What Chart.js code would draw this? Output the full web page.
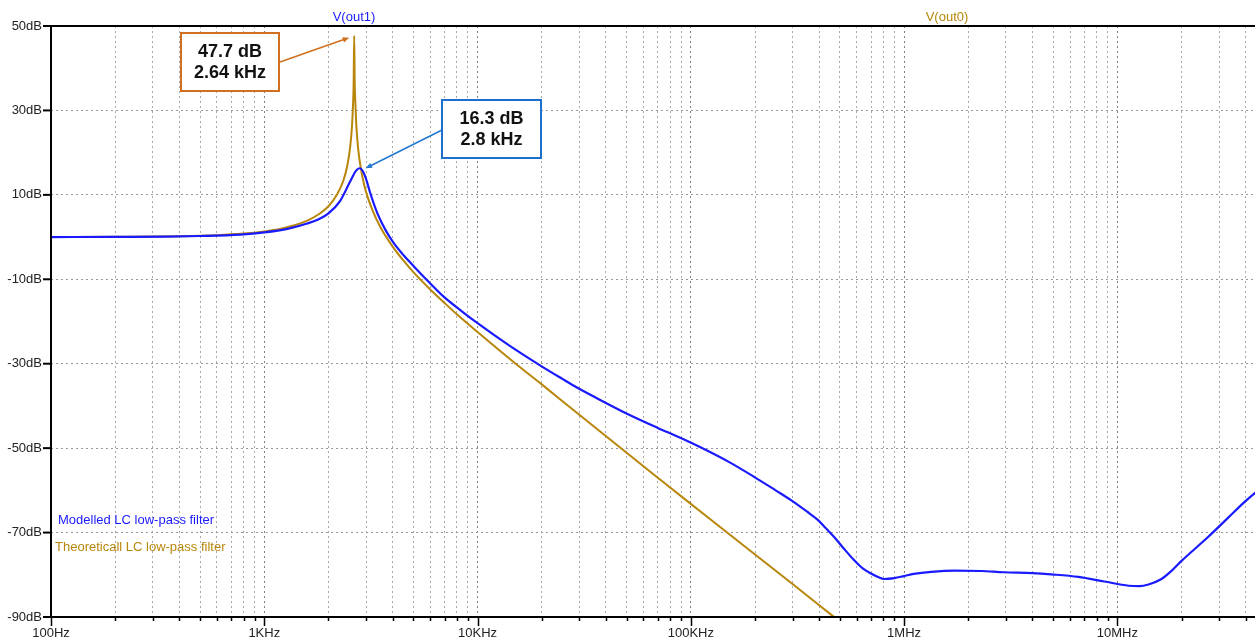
<!DOCTYPE html>
<html>
<head>
<meta charset="utf-8">
<script src="https://cdn.jsdelivr.net/npm/chart.js@4/dist/chart.umd.min.js"></script>
<style>
  html, body { margin: 0; padding: 0; background: #fff; overflow: hidden; }
  canvas { display: block; }
</style>
</head>
<body>
<canvas id="chartCanvas" width="1255" height="639"></canvas>
<script>
// Modelled LC low-pass filter, V(out1)
const modelledFreq = [100, 200, 350, 500, 772, 1000, 1300, 1590, 1800, 2000, 2270, 2530, 2700, 2800, 2900, 3000, 3150, 3400, 3700, 4040,
  4500, 5000, 5820, 7000, 8500, 10000, 14000, 19800, 25000, 29400, 37000, 50500, 70000, 89800, 111000, 150000, 198000, 250000, 295000, 350000,
  394000, 430000, 469000, 520000, 582000, 640000, 700000, 760000, 805000, 900000, 1000000, 1110000, 1340000, 1720000, 2300000, 2940000, 4000000, 4900000, 6560000, 8700000,
  11300000, 12700000, 14000000, 16100000, 18000000, 20000000, 26700000, 33200000, 40000000, 45000000];
const modelledDb = [0, 0.05, 0.1, 0.25, 0.6, 1.1, 2.0, 3.2, 4.2, 5.6, 8.6, 13.2, 15.8, 16.3, 15.6, 13.8, 10.2, 5.5, 1.7, -1.4,
  -4.3, -6.8, -10.3, -14.3, -17.7, -20.4, -25.6, -30.5, -33.6, -35.7, -38.4, -41.9, -45.2, -47.6, -49.8, -53.2, -56.8, -60, -62.3, -65,
  -67, -69, -71, -73.7, -76.5, -78.5, -79.7, -80.6, -81.0, -80.8, -80.3, -79.8, -79.3, -79.0, -79.1, -79.4, -79.6, -79.9, -80.5, -81.6,
  -82.6, -82.7, -82.3, -81.0, -79.0, -76.7, -71.0, -66.4, -62.5, -60.3];

// Theoretical LC low-pass filter, V(out0)
const theoFreq = [100, 200, 400, 600, 800, 1000, 1200, 1400, 1600, 1800, 2000, 2200, 2350, 2450, 2530, 2580, 2610, 2625, 2640, 2655,
  2670, 2700, 2750, 2800, 2900, 3000, 3200, 3500, 4000, 4500, 5000, 6000, 7000, 8000, 10000, 15000, 20000, 30000, 50000, 70000,
  100000, 150000, 200000, 300000, 400000, 500000];
const theoDb = [0, 0.05, 0.2, 0.45, 0.83, 1.35, 2.0, 2.85, 3.95, 5.4, 7.3, 10.2, 13.4, 16.9, 21.5, 26.5, 32, 36.5, 47.7, 36.5,
  32.5, 26.7, 21.4, 18.1, 13.7, 10.7, 6.6, 2.4, -2.25, -5.6, -8.3, -12.4, -15.6, -18.3, -22.5, -29.9, -34.9, -42.1, -51.1, -57.0,
  -63.2, -70.2, -75.2, -82.2, -87.2, -91.1];

// axis ticks
const decadeFreq = [100, 1000, 10000, 100000, 1000000, 10000000];
const decadeLabels = ['100Hz', '1KHz', '10KHz', '100KHz', '1MHz', '10MHz'];
const xMin = 100, xMax = 44200000;
const yMin = -90, yMax = 50, yStep = 20;

// markers
const theoPeak = { f: 2640, db: 47.7, lines: ['47.7 dB', '2.64 kHz'] };
const modPeak = { f: 2800, db: 16.3, lines: ['16.3 dB', '2.8 kHz'] };

const BLUE = '#1a1aff';
const GOLD = '#b8860b';
const FONT = '"Liberation Sans", Arial, sans-serif';

function xTickValues() {
  const out = [];
  decadeFreq.forEach(d => {
    for (let m = 1; m <= 9; m++) {
      const v = d * m;
      if (v >= xMin && v <= xMax) out.push(v);
    }
  });
  return out;
}

function arrow(ctx, x1, y1, x2, y2, color) {
  const ang = Math.atan2(y2 - y1, x2 - x1);
  const h = 7;
  ctx.strokeStyle = color;
  ctx.fillStyle = color;
  ctx.lineWidth = 1.5;
  ctx.beginPath();
  ctx.moveTo(x1, y1);
  ctx.lineTo(x2 - Math.cos(ang) * h * 0.8, y2 - Math.sin(ang) * h * 0.8);
  ctx.stroke();
  ctx.beginPath();
  ctx.moveTo(x2, y2);
  ctx.lineTo(x2 - h * Math.cos(ang - 0.4), y2 - h * Math.sin(ang - 0.4));
  ctx.lineTo(x2 - h * Math.cos(ang + 0.4), y2 - h * Math.sin(ang + 0.4));
  ctx.closePath();
  ctx.fill();
}

function labelBox(ctx, bx, by, bw, bh, color, lines) {
  ctx.fillStyle = '#fff';
  ctx.fillRect(bx, by, bw, bh);
  ctx.strokeStyle = color;
  ctx.lineWidth = 2;
  ctx.strokeRect(bx, by, bw, bh);
  ctx.fillStyle = '#111';
  ctx.font = 'bold 18px ' + FONT;
  ctx.textAlign = 'center';
  ctx.textBaseline = 'middle';
  ctx.fillText(lines[0], bx + bw / 2, by + bh / 2 - 10);
  ctx.fillText(lines[1], bx + bw / 2, by + bh / 2 + 11);
}

const overlay = {
  id: 'overlay',
  afterDraw(chart) {
    const { ctx, chartArea: a, scales: { x, y } } = chart;
    ctx.save();
    ctx.strokeStyle = '#000';
    ctx.lineWidth = 2;
    ctx.beginPath();
    ctx.moveTo(a.left, a.top); ctx.lineTo(a.right, a.top);
    ctx.moveTo(a.left, a.top); ctx.lineTo(a.left, a.bottom);
    ctx.moveTo(a.left - 1, a.bottom); ctx.lineTo(a.right, a.bottom);
    ctx.stroke();

    // tick marks
    ctx.lineWidth = 2;
    y.ticks.forEach(t => {
      const py = y.getPixelForValue(t.value);
      ctx.beginPath(); ctx.moveTo(a.left - 8, py); ctx.lineTo(a.left, py); ctx.stroke();
    });
    ctx.lineWidth = 1.5;
    x.ticks.forEach(t => {
      const px = Math.round(x.getPixelForValue(t.value)) + 0.5;
      const len = decadeFreq.includes(t.value) ? 9 : 4;
      ctx.beginPath(); ctx.moveTo(px, a.bottom); ctx.lineTo(px, a.bottom + len); ctx.stroke();
    });

    // trace names above the plot
    ctx.font = '13px ' + FONT;
    ctx.textAlign = 'center';
    ctx.textBaseline = 'middle';
    ctx.fillStyle = BLUE;
    ctx.fillText('V(out1)', 354, 17);
    ctx.fillStyle = GOLD;
    ctx.fillText('V(out0)', 947, 17);

    // legend notes inside the plot
    ctx.textAlign = 'left';
    ctx.fillStyle = BLUE;
    ctx.fillText('Modelled LC low-pass filter', a.left + 7, 520);
    ctx.fillStyle = GOLD;
    ctx.fillText('Theoreticall LC low-pass filter', a.left + 4, 547);

    // peak markers
    const tx = x.getPixelForValue(theoPeak.f), ty = y.getPixelForValue(theoPeak.db);
    const mx = x.getPixelForValue(modPeak.f), my = y.getPixelForValue(modPeak.db);
    arrow(ctx, 280, 62, tx - 5, ty + 2, '#d0701e');
    labelBox(ctx, 181, 33, 98, 58, '#d0701e', theoPeak.lines);
    arrow(ctx, 442, 130, mx + 6, my, '#2277d0');
    labelBox(ctx, 442, 100, 99, 58, '#1f6fce', modPeak.lines);
    ctx.restore();
  }
};

const chart = new Chart(document.getElementById('chartCanvas').getContext('2d'), {
  type: 'line',
  data: {
    datasets: [
      {
        label: 'V(out1)',
        data: modelledFreq.map((f, i) => ({ x: f, y: modelledDb[i] })),
        borderColor: BLUE,
        borderWidth: 2.2,
        pointRadius: 0,
        cubicInterpolationMode: 'monotone',
        fill: false
      },
      {
        label: 'V(out0)',
        data: theoFreq.map((f, i) => ({ x: f, y: theoDb[i] })),
        borderColor: GOLD,
        borderWidth: 2,
        pointRadius: 0,
        cubicInterpolationMode: 'monotone',
        fill: false
      }
    ]
  },
  options: {
    responsive: false,
    animation: false,
    devicePixelRatio: 1,
    layout: { padding: { top: 26, right: 0, bottom: 0, left: 0 } },
    scales: {
      x: {
        type: 'logarithmic',
        min: xMin,
        max: xMax,
        afterBuildTicks: s => { s.ticks = xTickValues().map(v => ({ value: v })); },
        afterFit: s => { s.height = 22; },
        ticks: {
          autoSkip: false,
          maxRotation: 0,
          padding: 9,
          color: '#222',
          font: { family: FONT, size: 13 },
          callback: v => { const i = decadeFreq.indexOf(v); return i >= 0 ? decadeLabels[i] : ''; }
        },
        grid: {
          drawTicks: false,
          color: c => (c.tick && decadeFreq.includes(c.tick.value)) ? '#808080' : '#a8a8a8',
          lineWidth: 1
        },
        border: { display: false, dash: [2, 3] }
      },
      y: {
        min: yMin,
        max: yMax,
        afterFit: s => { s.width = 51; },
        ticks: {
          stepSize: yStep,
          padding: 9,
          color: '#222',
          font: { family: FONT, size: 13 },
          callback: v => v + 'dB'
        },
        grid: { drawTicks: false, color: '#999', lineWidth: 1 },
        border: { display: false, dash: [2, 3] }
      }
    },
    plugins: {
      legend: { display: false },
      tooltip: { enabled: false }
    }
  },
  plugins: [overlay]
});
</script>
</body>
</html>
